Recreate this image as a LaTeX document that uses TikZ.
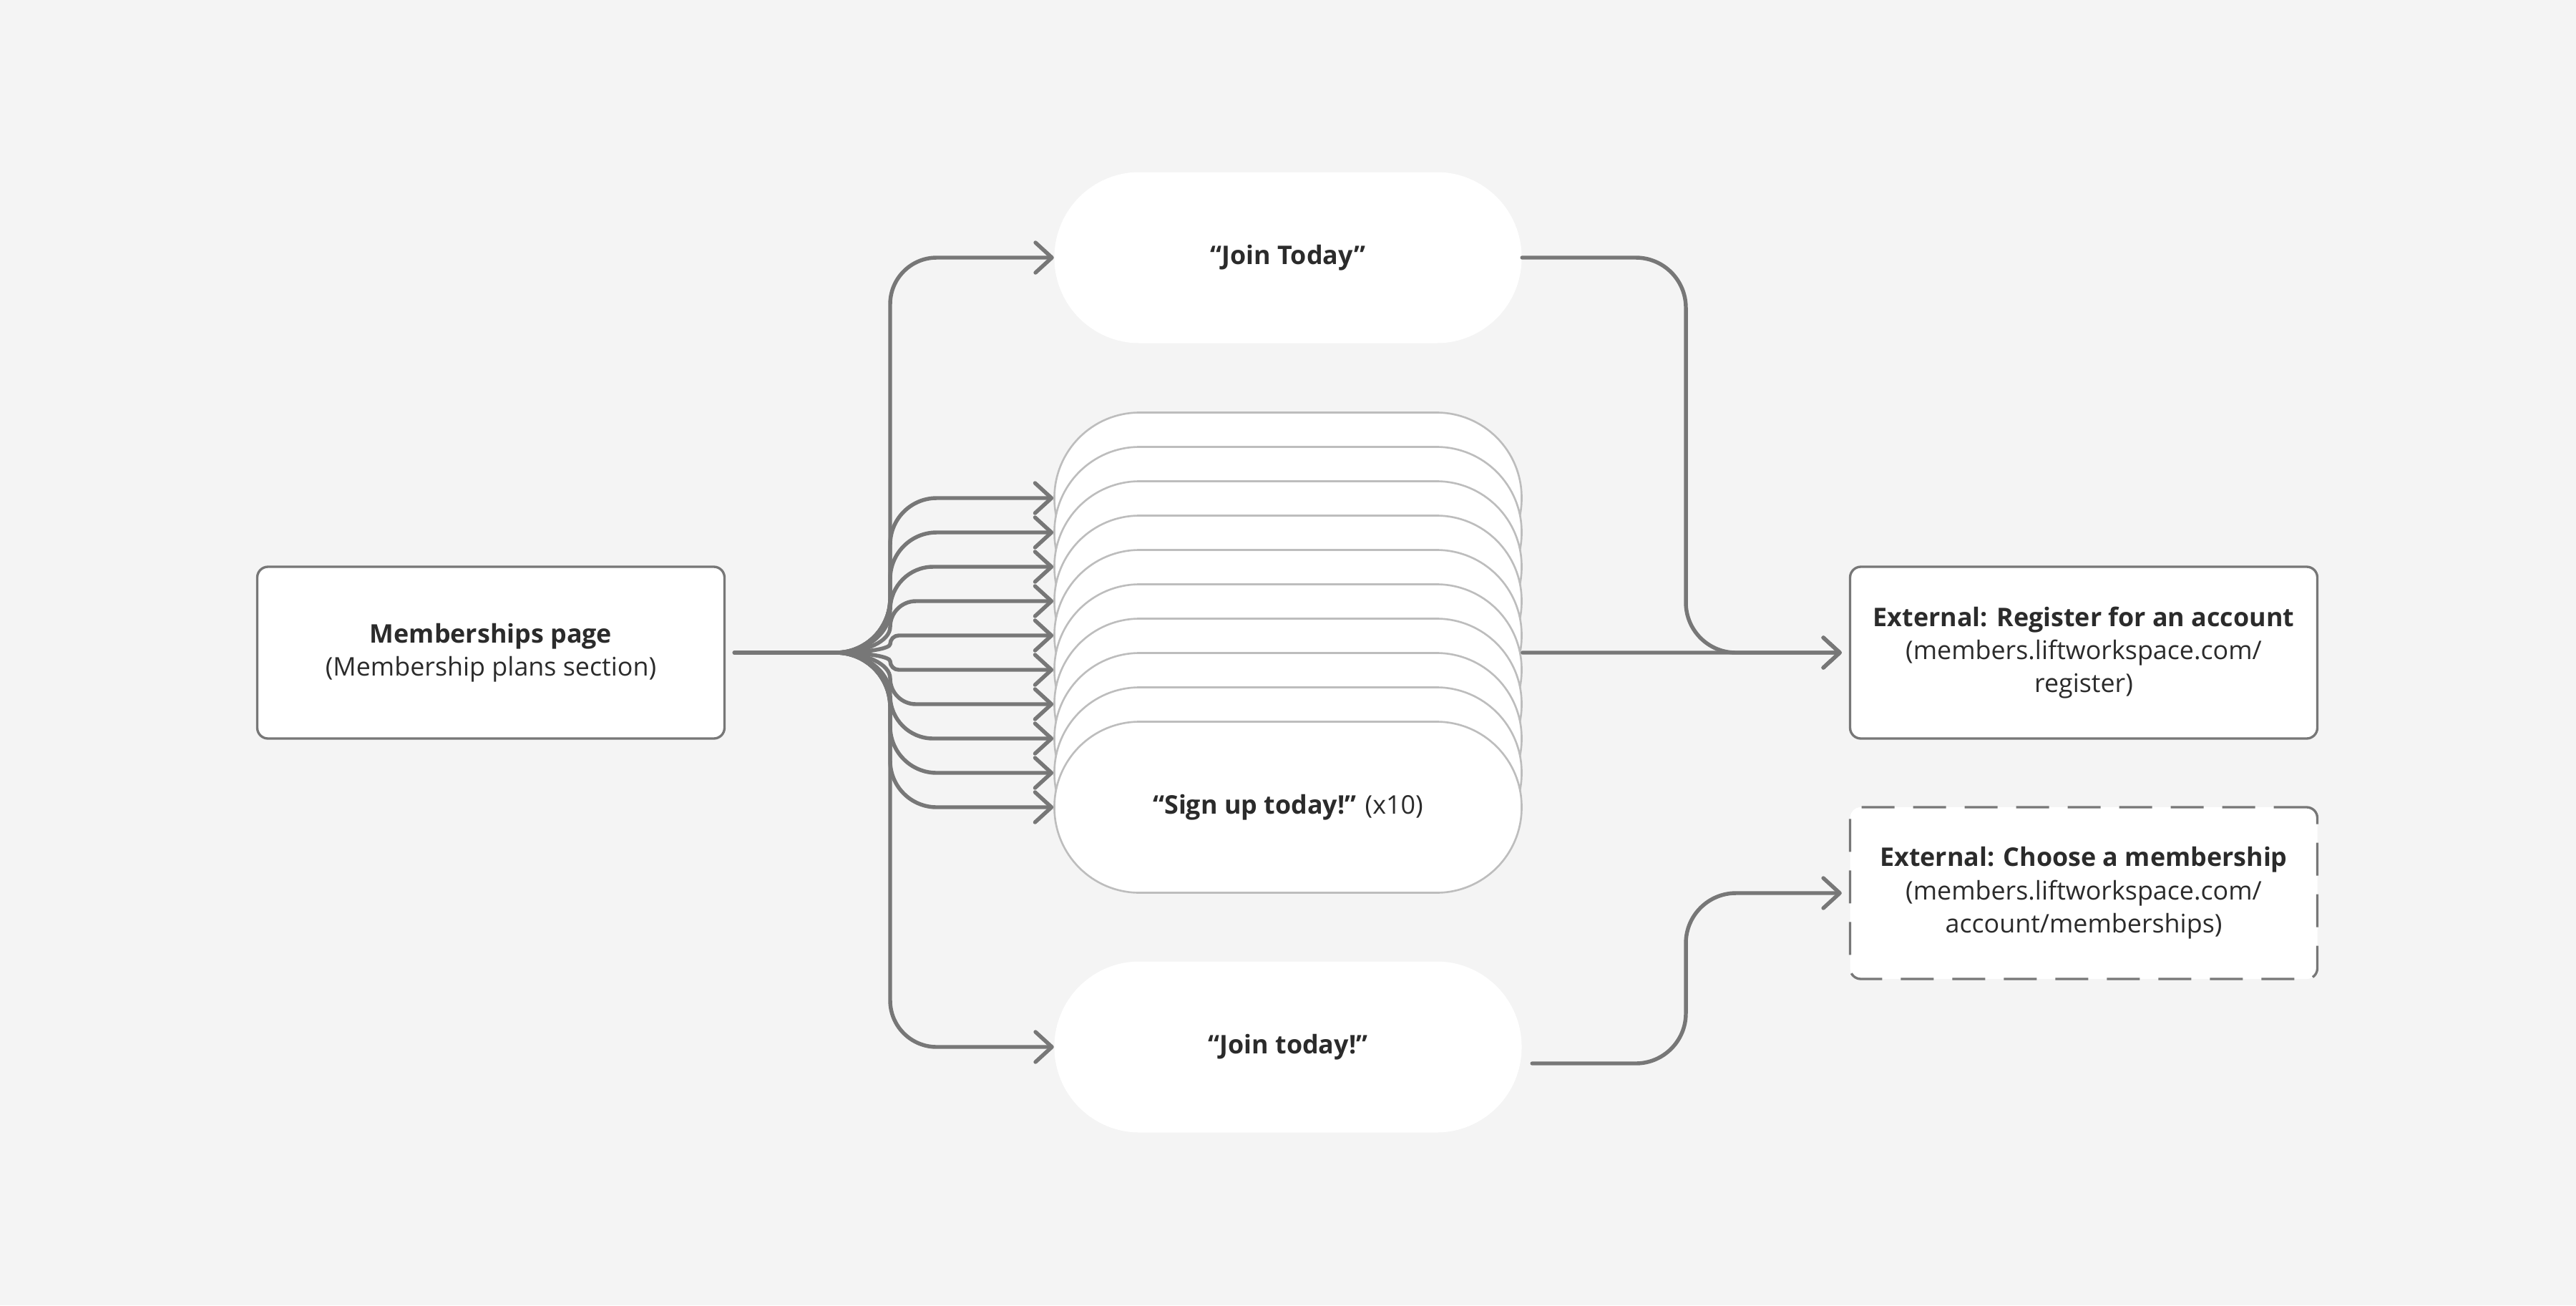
\documentclass[tikz,border=0pt]{standalone}
\usepackage{fontspec}
\setmainfont{Open Sans}
\usetikzlibrary{arrows.meta,calc}
\definecolor{bgc}{HTML}{F4F4F4}
\definecolor{linec}{HTML}{777777}
\definecolor{edgec}{HTML}{BDBDBD}
\definecolor{txtc}{HTML}{2B2B2B}

\begin{document}
\begin{tikzpicture}[
    x=1cm, y=1cm, font=\fontsize{10.2}{13.2}\selectfont, text=txtc,
    box/.style={draw=linec, line width=0.95pt, fill=white, rounded corners=0.15cm, align=center, minimum width=6.53cm, minimum height=2.4cm, inner sep=2pt},
    ext/.style={box, dash pattern=on 0.46cm off 0.26cm},
    pill/.style={fill=white, rounded corners=1.19cm, align=center, minimum width=6.53cm, minimum height=2.39cm, inner sep=2pt},
    stackpill/.style={pill, draw=edgec, line width=0.75pt},
    wire/.style={draw=linec, line width=1.55pt, line cap=round},
    flow/.style={wire, -{Straight Barb[length=2.3mm, width=4.2mm, round]}},
  ]
  \fill[bgc] (0,0) rectangle (36,-18.24);

  \node[box] (mem) at (6.86,-9.12) {\textbf{Memberships page}\\(Membership plans section)};
  \node[pill] (jt) at (18,-3.60) {\textbf{“Join Today”}};
  \foreach \i in {0,...,8}
    \node[stackpill] (s\i) at (18,{-6.96-0.48*\i}) {};
  \node[stackpill] (s9) at (18,-11.28) {\textbf{“Sign up today!”} (x10)};
  \node[pill] (jl) at (18,-14.63) {\textbf{“Join today!”}};
  \node[box] (reg) at (29.12,-9.12) {\textbf{External: Register for an account}\\(members.liftworkspace.com/\\register)};
  \node[ext] (cho) at (29.12,-12.48) {\textbf{External: Choose a membership}\\(members.liftworkspace.com/\\account/memberships)};

  \coordinate (J) at (11.68,-9.12);
  \coordinate (busR) at (23.56,0);
  \coordinate (stk) at ($(s4.east)!0.5!(s5.east)$);

  \draw[wire] ($(mem.east)+(0.12,0)$) -- (J);
  \foreach \n/\y in {jt/-3.60, s0/-6.96, s1/-7.44, s2/-7.92, s3/-8.40, s4/-8.88, s5/-9.36, s6/-9.84, s7/-10.32, s8/-10.80, s9/-11.28, jl/-14.63}{
    \pgfmathsetmacro\dy{\y+9.12}
    \pgfmathsetmacro\s{sign(\dy)}
    \pgfmathsetmacro\a{min(0.76,abs(\dy)/2)}
    \pgfmathsetmacro\b{min(0.65,abs(\dy)/2)}
    \pgfmathsetmacro\ya{-9.12+\s*\a}
    \pgfmathsetmacro\ca{-\s*\a*0.552}
    \pgfmathsetmacro\yb{\y-\s*\b}
    \pgfmathsetmacro\cb{\s*\b*0.552}
    \pgfmathsetmacro\xc{12.44+\b}
    \pgfmathsetmacro\cc{-\b*0.552}
    \draw[flow] (J) .. controls +(0.42,0) and +(0,\ca) .. (12.44,\ya) -- (12.44,\yb)
      .. controls +(0,\cb) and +(\cc,0) .. (\xc,\y) -- (\n.west);
  }

  \draw[flow, shorten >=0.1cm] (stk) -- (reg.west);
  \draw[flow, rounded corners=0.7cm, shorten >=0.1cm] (jt.east) -| (busR |- reg.west) -- (reg.west);
  \draw[flow, rounded corners=0.7cm, shorten >=0.1cm] ($(jl.east)+(0.14,-0.23)$) -| (busR |- cho.west) -- (cho.west);
\end{tikzpicture}
\end{document}
